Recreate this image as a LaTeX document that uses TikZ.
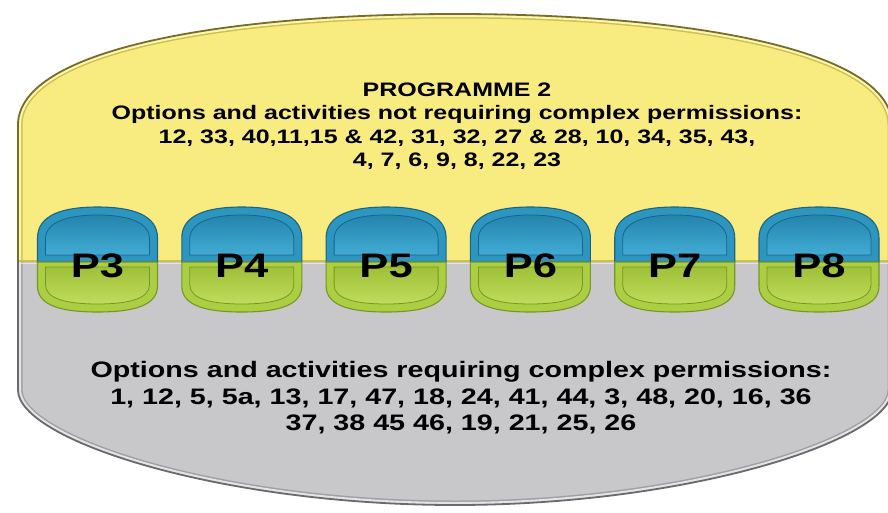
\documentclass[tikz,border=0pt]{standalone}
\usepackage{fontspec}
\setmainfont{Liberation Sans}
\newfontfamily\widesans[FakeStretch=1.28]{Liberation Sans}

\definecolor{shellyellow}{RGB}{248,236,128}
\definecolor{shellyellowrim}{RGB}{253,247,175}
\definecolor{shellyellowin}{RGB}{205,192,80}
\definecolor{shellolive}{RGB}{120,108,40}
\definecolor{shellgrey}{RGB}{200,200,203}
\definecolor{shellgreyrim}{RGB}{228,228,230}
\definecolor{shellgreyin}{RGB}{160,160,164}
\definecolor{shellgreyline}{RGB}{105,105,110}
\definecolor{pillblue}{RGB}{44,150,192}
\definecolor{pillbluedark}{RGB}{28,100,132}
\definecolor{pillbluetop}{RGB}{36,132,172}
\definecolor{pillbluebot}{RGB}{66,172,212}
\definecolor{pillgreen}{RGB}{172,206,66}
\definecolor{pillgreendark}{RGB}{118,150,40}
\definecolor{pillgreentop}{RGB}{160,192,56}
\definecolor{pillgreenbot}{RGB}{192,220,92}

\tikzset{
  bluecap/.style={fill=pillblue, draw=pillbluedark, line width=1.1pt},
  bluepanel/.style={top color=pillbluetop, bottom color=pillbluebot, draw=pillbluedark, line width=0.8pt},
  greencap/.style={fill=pillgreen, draw=pillgreendark, line width=1.1pt},
  greenpanel/.style={top color=pillgreentop, bottom color=pillgreenbot, draw=pillgreendark, line width=0.8pt},
  pilllabel/.style={inner sep=0pt, font=\widesans\bfseries\fontsize{34}{34}\selectfont},
  toptext/.style={align=center, font=\widesans\bfseries\fontsize{19.5}{23.5}\selectfont},
  bottomtext/.style={align=center, font=\widesans\bfseries\fontsize{22.4}{26.5}\selectfont}
}

% outline of the large rounded shell
\newcommand\shell[1]{\path[#1] (18,125) -- (18,390)
  .. controls (18,440) and (220,505) .. (455,505)
  .. controls (690,505) and (892,440) .. (892,390) -- (892,125)
  .. controls (892,50) and (690,14) .. (455,14)
  .. controls (220,14) and (18,50) .. (18,125) -- cycle;}

% one two-tone capsule with its label node
\newcommand\capsule[3]{%
  \begin{scope}[shift={(#1,0)}]
    \path[bluecap] (-60,262) -- (-60,238) .. controls (-60,215) and (-35,207) .. (0,207)
      .. controls (35,207) and (60,215) .. (60,238) -- (60,262) -- cycle;
    \path[bluepanel] (-52,255) -- (-52,239) .. controls (-52,222) and (-30,215) .. (0,215)
      .. controls (30,215) and (52,222) .. (52,239) -- (52,255) -- cycle;
    \path[greencap] (-60,262) -- (-60,286) .. controls (-60,306) and (-35,312) .. (0,312)
      .. controls (35,312) and (60,306) .. (60,286) -- (60,262) -- cycle;
    \path[greenpanel] (-52,267) -- (-52,285) .. controls (-52,299) and (-30,304) .. (0,304)
      .. controls (30,304) and (52,299) .. (52,285) -- (52,267) -- cycle;
  \end{scope}
  \node[pilllabel] (#2) at (#1,266) {#3};
}

\begin{document}
\begin{tikzpicture}[x=1pt,y=-1pt]
  \useasboundingbox (0,0) rectangle (888,512);
  \clip (0,0) rectangle (888,512);
  \fill[white] (0,0) rectangle (888,512);

  % yellow upper half
  \begin{scope}
    \clip (0,0) rectangle (900,262);
    \shell{fill=shellyellow}
    \begin{scope}
      \shell{clip}
      \shell{draw=shellyellowin, line width=9pt}
      \shell{draw=shellyellowrim, line width=6pt}
    \end{scope}
    \shell{draw=shellolive, line width=1.8pt}
  \end{scope}

  % grey lower half
  \begin{scope}
    \clip (0,262) rectangle (900,512);
    \shell{fill=shellgrey}
    \begin{scope}
      \shell{clip}
      \shell{draw=shellgreyin, line width=9pt}
      \shell{draw=shellgreyrim, line width=6pt}
    \end{scope}
    \shell{draw=shellgreyline, line width=1.8pt}
  \end{scope}

  % seam between the halves
  \coordinate (seamL) at (19,261);
  \coordinate (seamR) at (891,261);
  \draw[shellyellowin, line width=1.2pt] (seamL) -- (seamR);
  \draw[shellgreyrim, line width=1pt] ([yshift=-2.2pt]seamL) -- ([yshift=-2.2pt]seamR);

  % capsules
  \capsule{97.5}{p3}{P3}
  \capsule{241.8}{p4}{P4}
  \capsule{386.1}{p5}{P5}
  \capsule{530.4}{p6}{P6}
  \capsule{674.7}{p7}{P7}
  \capsule{819}{p8}{P8}

  % texts
  \node[toptext] (prog2) at (457,126) {PROGRAMME 2\\
    Options and activities not requiring complex permissions:\\
    12, 33, 40,11,15 \& 42, 31, 32, 27 \& 28, 10, 34, 35, 43,\\
    4, 7, 6, 9, 8, 22, 23};
  \node[bottomtext] (complex) at (461,398) {Options and activities requiring complex permissions:\\
    1, 12, 5, 5a, 13, 17, 47, 18, 24, 41, 44, 3, 48, 20, 16, 36\\
    37, 38 45 46, 19, 21, 25, 26};
\end{tikzpicture}
\end{document}
